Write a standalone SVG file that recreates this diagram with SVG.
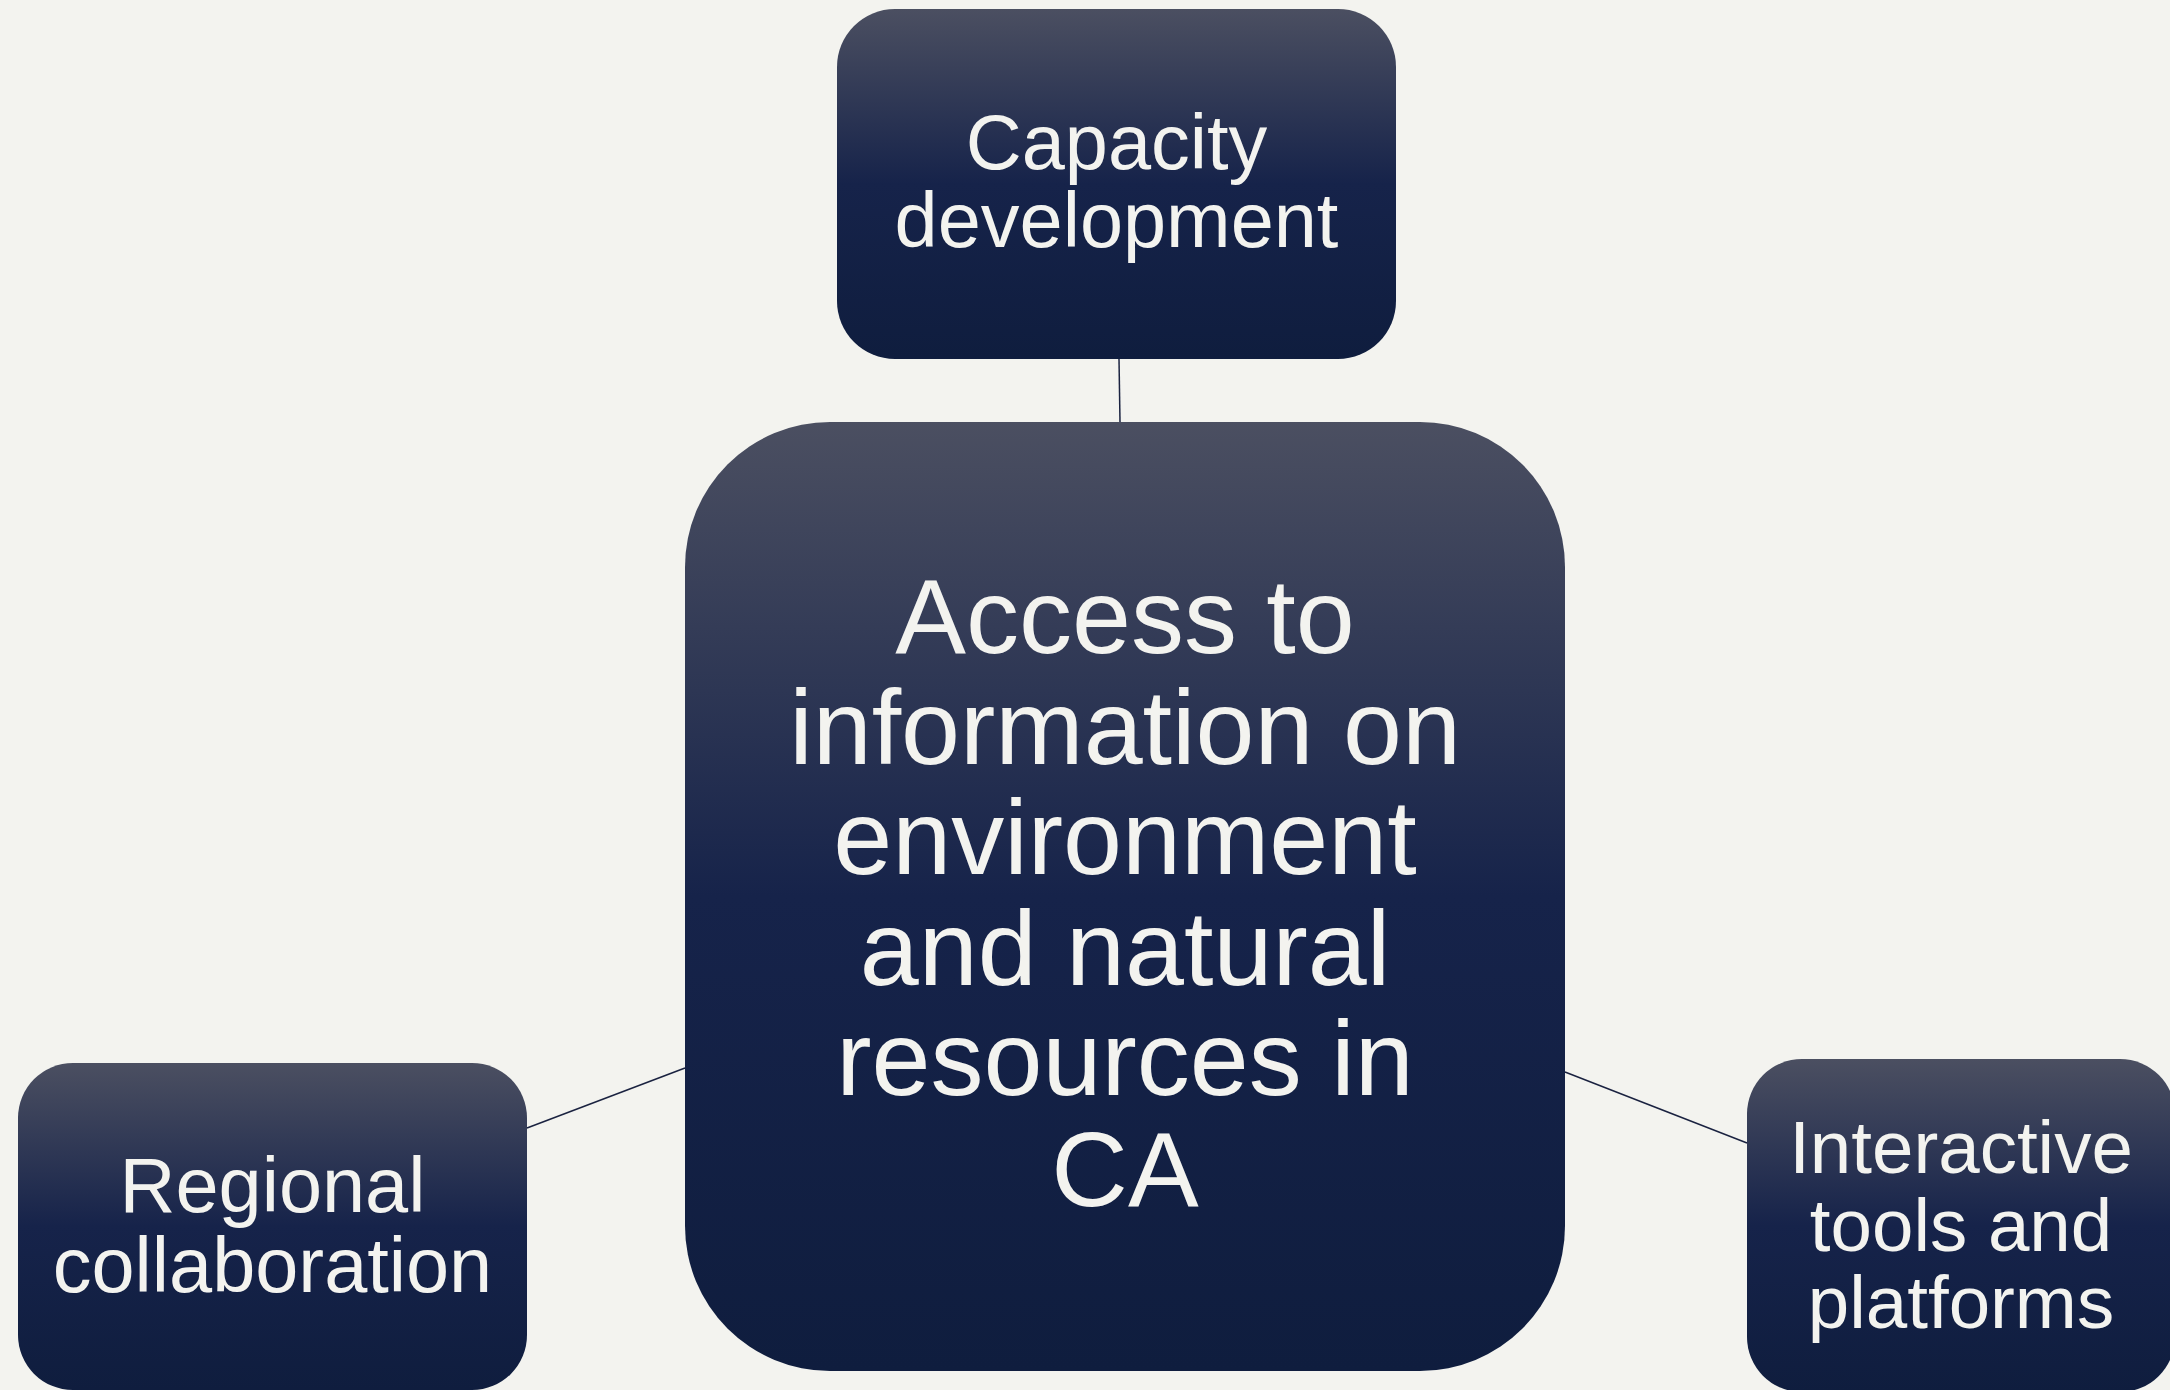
<svg xmlns="http://www.w3.org/2000/svg" width="2170" height="1390" viewBox="0 0 2170 1390">
<defs>
<linearGradient id="g" x1="0" y1="0" x2="0" y2="1">
<stop offset="0" stop-color="#4b4f61"/>
<stop offset="0.5" stop-color="#16234a"/>
<stop offset="1" stop-color="#0f1d3e"/>
</linearGradient>
<style>
.node{fill:url(#g);}
.t{font-family:"Liberation Sans",Arial,sans-serif;fill:#f3f3ef;text-anchor:middle;}
.conn{stroke:#1a2240;stroke-width:1.5;fill:none;}
</style>
</defs>
<rect width="2170" height="1390" fill="#f3f3ef"/>
<g id="connectors">
<line class="conn" x1="1119" y1="359" x2="1120" y2="422"/>
<line class="conn" x1="527" y1="1128" x2="685" y2="1068"/>
<line class="conn" x1="1565" y1="1072" x2="1747" y2="1143"/>
</g>
<g id="center">
<rect class="node" x="685" y="422" width="880" height="949" rx="145" ry="145"/>
<text class="t" font-size="106"><tspan x="1125" y="653">Access to</tspan><tspan x="1125" y="764">information on</tspan><tspan x="1125" y="874">environment</tspan><tspan x="1125" y="985">and natural</tspan><tspan x="1125" y="1095">resources in</tspan><tspan x="1125" y="1206">CA</tspan></text>
</g>
<g id="capacity">
<rect class="node" x="837" y="9" width="559" height="350" rx="58" ry="58"/>
<text class="t" font-size="77.5"><tspan x="1116.5" y="169">Capacity</tspan><tspan x="1116.5" y="247">development</tspan></text>
</g>
<g id="regional">
<rect class="node" x="18" y="1063" width="509" height="327" rx="55" ry="55"/>
<text class="t" font-size="77.5"><tspan x="272.5" y="1212">Regional</tspan><tspan x="272.5" y="1292">collaboration</tspan></text>
</g>
<g id="interactive">
<rect class="node" x="1747" y="1059" width="428" height="333" rx="55" ry="55"/>
<text class="t" font-size="74.5"><tspan x="1961" y="1173">Interactive</tspan><tspan x="1961" y="1251">tools and</tspan><tspan x="1961" y="1328">platforms</tspan></text>
</g>
</svg>
